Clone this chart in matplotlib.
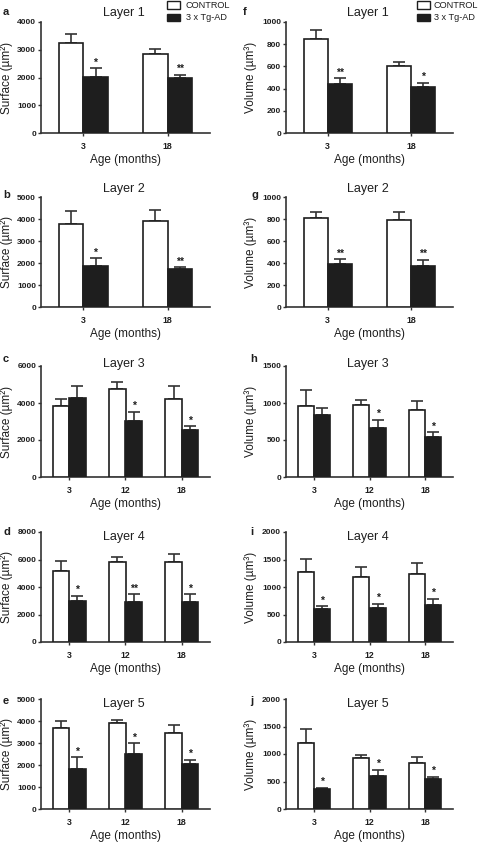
"""
Surface and volume per cortical layer, CONTROL vs 3 x Tg-AD
(grouped bars with upper SEM bars, Prism-like look)
"""

import numpy as np
import matplotlib
matplotlib.use('Agg')
import matplotlib.pyplot as plt
from matplotlib.patches import Rectangle

plt.rcParams['font.family'] = ['Liberation Sans', 'DejaVu Sans']

# ── Data ───────────────────────────────────────────────
ages_2 = ['3', '18']
ages_3 = ['3', '12', '18']

# Surface (µm²)
surf1_ctrl = [3240, 2860]
surf1_ctrl_err = [340, 160]
surf1_tg = [2030, 1970]
surf1_tg_err = [300, 120]
surf1_stars = ['*', '**']

surf2_ctrl = [3795, 3930]
surf2_ctrl_err = [570, 500]
surf2_tg = [1885, 1715]
surf2_tg_err = [330, 90]
surf2_stars = ['*', '**']

surf3_ctrl = [3840, 4760, 4215]
surf3_ctrl_err = [380, 360, 685]
surf3_tg = [4290, 3030, 2520]
surf3_tg_err = [630, 485, 215]
surf3_stars = ['', '*', '*']

surf4_ctrl = [5180, 5810, 5830]
surf4_ctrl_err = [725, 360, 605]
surf4_tg = [3010, 2940, 2890]
surf4_tg_err = [340, 530, 580]
surf4_stars = ['*', '**', '*']

surf5_ctrl = [3690, 3900, 3450]
surf5_ctrl_err = [300, 150, 375]
surf5_tg = [1820, 2515, 2050]
surf5_tg_err = [540, 470, 195]
surf5_stars = ['*', '*', '*']

# Volume (µm³)
vol1_ctrl = [850, 607]
vol1_ctrl_err = [78, 36]
vol1_tg = [441, 411]
vol1_tg_err = [51, 42]
vol1_stars = ['**', '*']

vol2_ctrl = [812, 791]
vol2_ctrl_err = [55, 70]
vol2_tg = [388, 373]
vol2_tg_err = [48, 54]
vol2_stars = ['**', '**']

vol3_ctrl = [964, 977, 901]
vol3_ctrl_err = [212, 59, 131]
vol3_tg = [833, 662, 541]
vol3_tg_err = [95, 113, 63]
vol3_stars = ['', '*', '*']

vol4_ctrl = [1273, 1188, 1236]
vol4_ctrl_err = [230, 170, 200]
vol4_tg = [600, 612, 667]
vol4_tg_err = [48, 85, 115]
vol4_stars = ['*', '*', '*']

vol5_ctrl = [1206, 933, 842]
vol5_ctrl_err = [242, 55, 110]
vol5_tg = [358, 600, 539]
vol5_tg_err = [30, 115, 49]
vol5_stars = ['*', '*', '*']

surf_ymax = [4000, 5000, 6000, 8000, 5000]
surf_step = [1000, 1000, 2000, 2000, 1000]
vol_ymax = [1000, 1000, 1500, 2000, 2000]
vol_step = [200, 200, 500, 500, 500]

# ── Layout (pixels) ────────────────────────────────────
W, H = 480, 842
col_x = [(41, 210), (286, 453)]
rows = [(22, 133), (197, 307), (366, 477), (532, 642), (699, 809)]
title_y = [13, 189, 364, 537, 704]
letter_y = [12, 195, 359, 532, 701]
letter_x = [[3, 3, 3, 3, 3], [243, 251, 250, 250, 250]]

INK = '#1e1e1e'
BW = 0.29

fig = plt.figure(figsize=(W / 100, H / 100), dpi=100)
fig.patch.set_facecolor('white')


def panel(col, row, letter, ages, ctrl, ctrl_err, tg, tg_err, stars,
          ymax, step, ylabel):
    x0, x1 = col_x[col]
    top, bot = rows[row]
    ax = fig.add_axes([x0 / W, 1 - bot / H, (x1 - x0) / W, (bot - top) / H])
    x = np.arange(len(ages))
    ax.bar(x - BW / 2, ctrl, BW, color='white', edgecolor=INK, lw=1.2, zorder=3)
    ax.bar(x + BW / 2, tg, BW, color=INK, edgecolor=INK, lw=1.2, zorder=3)
    z = np.zeros(len(ages))
    ax.errorbar(x - BW / 2, ctrl, yerr=[z, ctrl_err], fmt='none', ecolor='#333333',
                elinewidth=1.2, capsize=4.6, capthick=1.2, zorder=2)
    ax.errorbar(x + BW / 2, tg, yerr=[z, tg_err], fmt='none', ecolor='#333333',
                elinewidth=1.2, capsize=4.6, capthick=1.2, zorder=2)
    for xi, m, e, s in zip(x, tg, tg_err, stars):
        if s:
            ax.annotate(s, (xi + BW / 2, m + e), xytext=(0, 0.5),
                        textcoords='offset points', ha='center', va='bottom',
                        fontsize=7.5, fontweight='bold', color=INK)
    ax.set_xlim(-0.5, len(ages) - 0.5)
    ax.set_ylim(0, ymax)
    ax.set_yticks(np.arange(0, ymax + 1, step))
    ax.set_xticks(x)
    ax.set_xticklabels(ages)
    for sp in ['top', 'right']:
        ax.spines[sp].set_visible(False)
    for sp in ['left', 'bottom']:
        ax.spines[sp].set_linewidth(1.2)
        ax.spines[sp].set_color('#333333')
    ax.tick_params(axis='y', length=2.5, width=1.0, pad=1, labelsize=6,
                   colors='#333333', labelcolor=INK)
    ax.tick_params(axis='x', length=2.5, width=1.0, pad=4, labelsize=6.3,
                   colors='#333333', labelcolor=INK)
    for lab in ax.get_xticklabels() + ax.get_yticklabels():
        lab.set_fontweight('bold')

    ax.set_xlabel('Age (months)', fontsize=8.5, color=INK)
    ax.xaxis.label.set_va('center')
    ax.xaxis.set_label_coords(0.5, -27 / (bot - top))
    ax.set_ylabel(ylabel, fontsize=8.5, color=INK)
    ax.yaxis.label.set_va('center')
    yl_x = 7 if col == 0 else 251
    ax.yaxis.set_label_coords((yl_x - x0) / (x1 - x0), 0.5)

    fig.text((x0 + x1) / 2 / W - 0.004, 1 - title_y[row] / H, f'Layer {row + 1}',
             ha='center', va='center', fontsize=9, color=INK)
    fig.text(letter_x[col][row] / W, 1 - letter_y[row] / H, letter,
             ha='left', va='center', fontsize=8, fontweight='bold', color=INK)
    return ax


surf = [
    (ages_2, surf1_ctrl, surf1_ctrl_err, surf1_tg, surf1_tg_err, surf1_stars),
    (ages_2, surf2_ctrl, surf2_ctrl_err, surf2_tg, surf2_tg_err, surf2_stars),
    (ages_3, surf3_ctrl, surf3_ctrl_err, surf3_tg, surf3_tg_err, surf3_stars),
    (ages_3, surf4_ctrl, surf4_ctrl_err, surf4_tg, surf4_tg_err, surf4_stars),
    (ages_3, surf5_ctrl, surf5_ctrl_err, surf5_tg, surf5_tg_err, surf5_stars),
]
vol = [
    (ages_2, vol1_ctrl, vol1_ctrl_err, vol1_tg, vol1_tg_err, vol1_stars),
    (ages_2, vol2_ctrl, vol2_ctrl_err, vol2_tg, vol2_tg_err, vol2_stars),
    (ages_3, vol3_ctrl, vol3_ctrl_err, vol3_tg, vol3_tg_err, vol3_stars),
    (ages_3, vol4_ctrl, vol4_ctrl_err, vol4_tg, vol4_tg_err, vol4_stars),
    (ages_3, vol5_ctrl, vol5_ctrl_err, vol5_tg, vol5_tg_err, vol5_stars),
]

for i, d in enumerate(surf):
    panel(0, i, 'abcde'[i], *d, surf_ymax[i], surf_step[i], 'Surface (µm²)')
for i, d in enumerate(vol):
    panel(1, i, 'fghij'[i], *d, vol_ymax[i], vol_step[i], 'Volume (µm³)')

# ── Legend (top of both columns) ───────────────────────
for sq_x, tx_x in [(167, 186), (417, 434)]:
    for k, (lab, fc) in enumerate([('CONTROL', 'white'), ('3 x Tg-AD', INK)]):
        cy = 5 + 12.5 * k
        fig.add_artist(Rectangle((sq_x / W, 1 - (cy + 3.5) / H), 13 / W, 7 / H,
                                 transform=fig.transFigure, facecolor=fc,
                                 edgecolor=INK, lw=1.0))
        fig.text(tx_x / W, 1 - cy / H, lab, ha='left', va='center',
                 fontsize=6.6, color=INK)

plt.savefig('out.png', dpi=100, facecolor='white')
